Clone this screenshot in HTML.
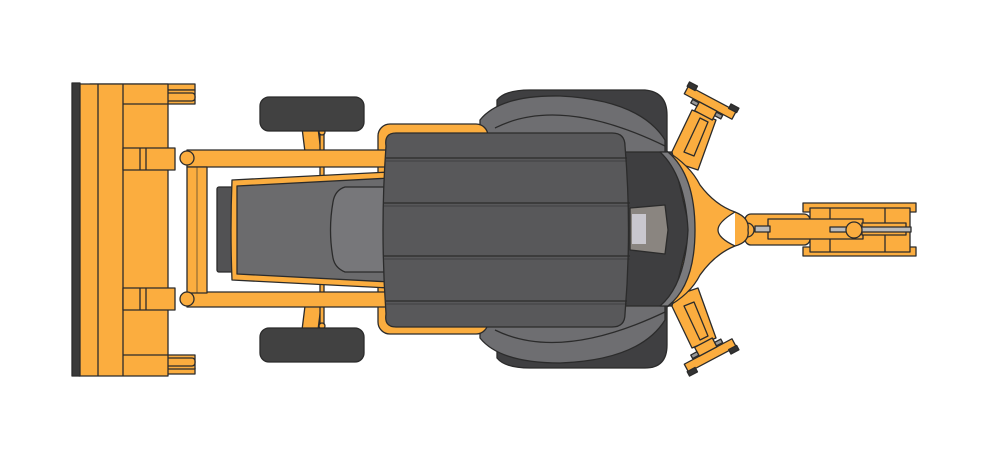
<!DOCTYPE html>
<html><head><meta charset="utf-8"><style>html,body{margin:0;padding:0;background:#fff}svg{display:block}</style></head>
<body>
<svg width="1000" height="459" viewBox="0 0 1000 459" xmlns="http://www.w3.org/2000/svg" stroke="#2b2b2b" stroke-width="1.3" stroke-linejoin="round">
<g fill="#fbad3f">
<path d="M302 128 L318 128 L322 160 L306 160 Z"/>
<path d="M306 298 L322 298 L318 330 L302 330 Z"/>
<rect x="320" y="130" width="4" height="200" fill="#fbad3f"/>
<circle cx="322" cy="132" r="3"/><circle cx="322" cy="326" r="3"/>
</g>
<rect x="260" y="97" width="104" height="34" rx="9" fill="#414141"/>
<rect x="260" y="328" width="104" height="34" rx="9" fill="#414141"/>
<g fill="#fbad3f">
<rect x="803" y="203" width="113" height="9"/>
<rect x="803" y="247" width="113" height="9"/>
<rect x="810" y="208" width="100" height="44"/>
<line x1="830" y1="208" x2="830" y2="252"/><line x1="885" y1="208" x2="885" y2="252"/>
<rect x="745" y="214" width="65" height="31" rx="6"/>
<rect x="768" y="219" width="95" height="20"/>
<rect x="862" y="223" width="44" height="12"/>
<rect x="830" y="227" width="81" height="5" fill="#bbb"/>
<rect x="755" y="226" width="15" height="6" fill="#bbb"/>
<circle cx="747" cy="230" r="7"/>
<circle cx="854" cy="230" r="8"/>
</g>
<g fill="#fbad3f">
<path d="M668 160 L692 110 L716 120 L698 170 Z"/>
<path d="M668 298 L692 348 L716 338 L698 288 Z"/>
<path d="M684 152 L700 118 L708 122 L694 156 Z" fill="none"/>
<path d="M684 306 L700 340 L708 336 L694 302 Z" fill="none"/>
<g transform="translate(710,103) rotate(28)">
<rect x="-27" y="-5" width="54" height="9"/>
<rect x="-28" y="-9" width="9" height="5" fill="#333"/><rect x="19" y="-9" width="9" height="5" fill="#333"/>
<rect x="-10" y="4" width="20" height="10"/>
<rect x="-17" y="5" width="7" height="4" fill="#999"/><rect x="10" y="5" width="7" height="4" fill="#999"/>
</g>
<g transform="translate(710,355) rotate(-28)">
<rect x="-27" y="-4" width="54" height="9"/>
<rect x="-28" y="4" width="9" height="5" fill="#333"/><rect x="19" y="4" width="9" height="5" fill="#333"/>
<rect x="-10" y="-14" width="20" height="10"/>
<rect x="-17" y="-9" width="7" height="4" fill="#999"/><rect x="10" y="-9" width="7" height="4" fill="#999"/>
</g>
<path d="M665 150 Q690 165 700 185 Q715 205 735 212 Q718 222 718 230 Q718 238 735 246 Q715 254 700 275 Q690 295 665 308 Z"/>
<path d="M735 212 Q750 218 748 230 Q750 242 735 246" fill="#fbad3f"/>
</g>
<path d="M497 100 Q505 90 530 90 L645 90 Q667 92 667 115 L667 345 Q667 368 645 368 L530 368 Q505 368 497 358 Z" fill="#3f3f41"/>
<path d="M480 120 Q500 95 560 96 Q640 100 665 140 L665 320 Q640 360 560 363 Q500 363 480 338 Z" fill="#6e6e71"/>
<path d="M495 128 Q560 95 665 146" fill="none"/>
<path d="M495 330 Q560 362 665 312" fill="none"/>
<path d="M620 152 L672 152 L690 230 L672 306 L620 306 Z" fill="#3e3e40"/>
<path d="M660 152 Q685 175 688 230 Q685 285 660 306 L668 306 Q695 285 695 230 Q695 175 668 152 Z" fill="#7a7a7d"/>
<path d="M630 208 L665 205 L668 230 L665 254 L630 250 Z" fill="#8a8580"/>
<rect x="632" y="214" width="14" height="30" fill="#c9c7ce" stroke="none"/>
<rect x="378" y="124" width="110" height="210" rx="12" fill="#fbad3f"/>
<g fill="#fbad3f">
<path d="M187 150 L392 150 L392 167 L187 167 Z"/>
<path d="M187 292 L392 292 L392 307 L187 307 Z"/>
<rect x="187" y="167" width="20" height="126"/>
<line x1="197" y1="167" x2="197" y2="293" stroke-width="0.6"/>
</g>
<rect x="217" y="187" width="22" height="85" rx="2" fill="#525254"/>
<path d="M232 180 L390 172 L390 288 L232 280 Q230 230 232 180 Z" fill="#fbad3f"/>
<path d="M237 186 L390 178 L390 282 L237 274 Z" fill="#6b6b6d"/>
<path d="M345 187 L392 187 L392 272 L345 272 Q335 268 333 258 Q328 230 333 202 Q335 190 345 187 Z" fill="#77777a"/>
<path d="M396 133 L612 133 Q625 133 625 146 Q632 230 625 314 Q625 327 612 327 L396 327 Q384 327 386 314 Q380 230 386 146 Q384 133 396 133 Z" fill="#58585a"/>
<line x1="386" y1="158" x2="627" y2="158"/><line x1="386" y1="161" x2="627" y2="161" stroke-width="0.6"/>
<line x1="384" y1="203" x2="630" y2="203"/><line x1="384" y1="206" x2="630" y2="206" stroke-width="0.6"/>
<line x1="384" y1="256" x2="630" y2="256"/><line x1="384" y1="259" x2="630" y2="259" stroke-width="0.6"/>
<line x1="386" y1="301" x2="627" y2="301"/><line x1="386" y1="304" x2="627" y2="304" stroke-width="0.6"/>
<g fill="#fbad3f">
<rect x="90" y="84" width="105" height="6"/>
<rect x="90" y="368" width="105" height="6"/>
<rect x="123" y="90" width="72" height="14"/>
<rect x="123" y="355" width="72" height="14"/>
<rect x="150" y="93" width="45" height="8" rx="3"/>
<rect x="150" y="358" width="45" height="8" rx="3"/>
<rect x="79" y="84" width="89" height="292"/>
<line x1="98" y1="84" x2="98" y2="376"/><line x1="123" y1="84" x2="123" y2="376"/>
<line x1="123" y1="104" x2="168" y2="104"/><line x1="123" y1="355" x2="168" y2="355"/>
<rect x="123" y="148" width="52" height="22"/>
<rect x="123" y="288" width="52" height="22"/>
<line x1="140" y1="148" x2="140" y2="170"/><line x1="146" y1="148" x2="146" y2="170"/>
<line x1="140" y1="288" x2="140" y2="310"/><line x1="146" y1="288" x2="146" y2="310"/>
<circle cx="187" cy="158" r="7"/><circle cx="187" cy="299" r="7"/>
</g>
<rect x="72" y="83" width="8" height="293" fill="#3a3a3a"/>
</svg>
</body></html>
